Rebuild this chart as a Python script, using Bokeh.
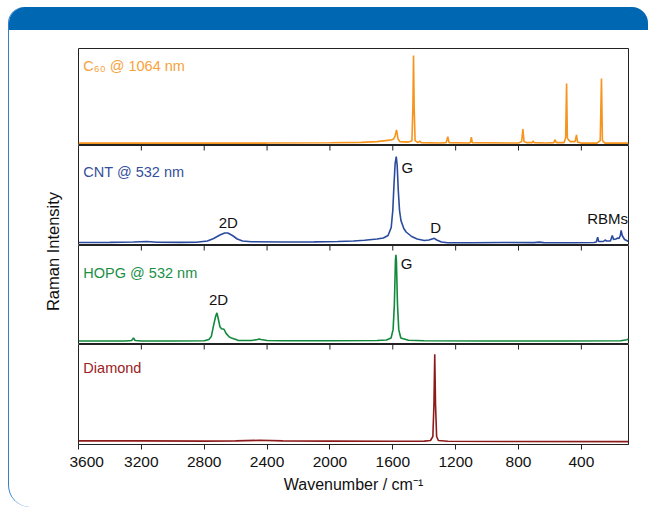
import math
from bokeh.plotting import figure
from bokeh.layouts import column, row
from bokeh.models import Range1d, LinearAxis, FixedTicker, Label, Div, ColumnDataSource
from bokeh.embed import file_html
from bokeh.resources import INLINE

FONT = "Liberation Sans"
X_TICKS = [3600, 3200, 2800, 2400, 2000, 1600, 1200, 800, 400]
X_START, X_END = 3600, 100

# ---- spectra (wavenumber / cm-1, intensity in % of panel height) ----
c60_wn = [3600, 3000, 2400, 2000, 1800, 1700, 1620, 1595, 1585, 1576, 1567, 1555, 1500, 1478, 1472,
          1468, 1464, 1458, 1440, 1428, 1420, 1300, 1260, 1250, 1242, 1115, 1106, 1100, 1094, 800,
          780, 772, 765, 750, 712, 708, 700, 620, 575, 567, 560, 510, 500, 494, 489, 483, 470, 440,
          431, 424, 400, 300, 280, 272, 266, 250, 100]
c60_int = [2.5, 2.5, 2.5, 2.8, 3.2, 4.0, 5.5, 6.5, 10, 16, 7, 4, 3.5, 5, 40,
           92.7, 40, 5, 3, 4.5, 3, 2.5, 3, 9, 3, 2.5, 3, 8.5, 3, 2.5,
           4, 17, 4, 3, 3, 4.5, 3, 2.5, 3, 6, 3, 3, 8, 64, 8, 6, 4, 4,
           11, 3.5, 2.5, 2.5, 5, 69, 5, 2.5, 2.5]

cnt_wn = [3600, 3400, 3250, 3165, 3100, 2950, 2850, 2780, 2740, 2700, 2670, 2650, 2620, 2590, 2556,
          2500, 2300, 2100, 1950, 1850, 1780, 1700, 1660, 1630, 1610, 1600, 1592, 1585, 1578, 1572,
          1565, 1557, 1548, 1530, 1515, 1480, 1445, 1400, 1370, 1350, 1336, 1320, 1290, 1250, 1100,
          900, 700, 669, 640, 450, 320, 305, 296, 290, 260, 249, 240, 215, 203, 195, 180, 168, 160,
          152, 147, 140, 125, 100]
cnt_int = [3, 3.1, 3.5, 4.0, 3.3, 3.1, 3.2, 4.5, 7, 10.5, 12.5, 12.5, 10, 6.5, 4.5,
           3.8, 3.5, 3.6, 4, 4.5, 5.2, 6.5, 7.5, 10, 18, 35, 62, 82, 89, 80,
           55, 35, 25, 17, 13.5, 9, 6.5, 5, 5.5, 6.5, 7.2, 5.5, 3.5, 2.8, 2.8,
           3, 2.9, 3.4, 2.9, 2.8, 3, 3.5, 8.4, 4, 4, 5.5, 4.5, 4.5, 10, 6, 6.5, 7.5, 7,
           10, 15.2, 10, 6, 4]

hopg_wn = [3600, 3300, 3262, 3250, 3240, 3200, 3000, 2800, 2770, 2755, 2740, 2728, 2719, 2712, 2700,
           2690, 2674, 2660, 2640, 2626, 2585, 2500, 2460, 2450, 2440, 2400, 2300, 2000, 1700, 1640,
           1611, 1598, 1590, 1583, 1580, 1577, 1570, 1562, 1549, 1500, 1400, 1000, 500, 150, 110, 100]
hopg_int = [3.5, 3.5, 4, 6.6, 4, 3.5, 3.5, 3.8, 5, 8, 19.6, 28, 32, 27, 18,
            16, 15.4, 11, 7.5, 6.6, 4.2, 4, 5, 5.6, 5, 4, 3.8, 3.8, 4, 4.5,
            6.6, 15, 40, 85, 90.5, 85, 40, 15, 6.6, 4.3, 3.8, 3.5, 3.5, 3.8, 4.8, 5.5]

dia_wn = [3600, 3200, 2800, 2600, 2450, 2300, 2000, 1600, 1400, 1360, 1345, 1338, 1333, 1328, 1321,
          1310, 1250, 800, 100]
dia_int = [3.6, 3.6, 3.4, 3.6, 4.2, 3.6, 3.4, 3.2, 3.4, 4, 8, 40, 90.3, 40, 8,
           4, 3.3, 3, 2.9]

# ---- panel texts ----
panel_names = ["C₆₀ @ 1064 nm", "CNT @ 532 nm", "HOPG @ 532 nm", "Diamond"]
panel_colors = ["#f7941d", "#2b4b9e", "#12893c", "#8c1a1a"]
panel_label_colors = ["#f6a23c", "#34509a", "#1a9046", "#9a2222"]
panel_label_y = [82, 73.8, 72.3, 76.9]

cnt_notes = ["2D", "G", "D", "RBMs"]
cnt_note_wn = [2647, 1508, 1327, 233]
cnt_note_int = [23.3, 78.3, 18.1, 27.2]
hopg_notes = ["2D", "G"]
hopg_note_wn = [2709, 1512]
hopg_note_int = [45.8, 81.7]

spectra = [(c60_wn, c60_int), (cnt_wn, cnt_int), (hopg_wn, hopg_int), (dia_wn, dia_int)]
notes = [([], [], []), (cnt_notes, cnt_note_wn, cnt_note_int),
         (hopg_notes, hopg_note_wn, hopg_note_int), ([], [], [])]

# ---- layout (pixels) ----
PAGE_W, PAGE_H = 648, 507
OFF_L, OFF_T = 8, 7          # white gap before the framed box
BAND_H = 23
FRAME_W = 550
FRAME_H = [97, 100, 99, 100]
TOP_GAP = 18
LAB_W = 60
BL = 9
INNER_W = PAGE_W - OFF_L - 1
BR = INNER_W - LAB_W - BL - FRAME_W
STACK_H = PAGE_H - OFF_T - BAND_H
BOTTOM = STACK_H - TOP_GAP - sum(FRAME_H)

x_range = Range1d(X_START, X_END)

panels = []
for i in range(4):
    top = TOP_GAP if i == 0 else 0
    bottom = BOTTOM if i == 3 else 0
    p = figure(frame_width=FRAME_W, frame_height=FRAME_H[i],
               x_range=x_range, y_range=Range1d(0, 100),
               x_axis_location=None, y_axis_location=None,
               output_backend="svg", toolbar_location=None,
               min_border_left=BL, min_border_right=BR,
               min_border_top=top, min_border_bottom=bottom)
    p.grid.visible = False
    p.outline_line_color = "#222222"
    p.outline_line_width = 1
    p.background_fill_color = "white"
    p.border_fill_color = None

    if i > 0:
        # inward ticks hanging from the panel's top edge (shared x ticks)
        p.ray(x=X_TICKS, y=[100] * len(X_TICKS), length=5, length_units="screen",
              angle=-math.pi / 2, line_color="#222222", line_width=1)
    if i == 3:
        ax = LinearAxis(ticker=FixedTicker(ticks=X_TICKS),
                        major_tick_in=0, major_tick_out=5,
                        minor_tick_line_color=None,
                        axis_line_color="#222222",
                        major_tick_line_color="#222222",
                        major_label_text_font=FONT,
                        major_label_text_font_size="15.5px",
                        major_label_text_color="#111111",
                        major_label_standoff=7,
                        axis_label="Wavenumber / cm⁻¹",
                        axis_label_text_font=FONT,
                        axis_label_text_font_size="16px",
                        axis_label_text_font_style="normal",
                        axis_label_text_color="#111111",
                        axis_label_standoff=6)
        p.add_layout(ax, "below")

    wn, inten = spectra[i]
    src = ColumnDataSource(data=dict(x=wn, y=inten))
    p.line("x", "y", source=src, line_color=panel_colors[i], line_width=1.6)

    p.add_layout(Label(x=3569, y=panel_label_y[i], text=panel_names[i],
                       text_font=FONT, text_font_size="14.5px",
                       text_color=panel_label_colors[i],
                       text_align="left", text_baseline="middle"))
    for t, nx, ny in zip(*notes[i]):
        p.add_layout(Label(x=nx, y=ny, text=t, text_font=FONT, text_font_size="15px",
                           text_color="#111111", text_align="center",
                           text_baseline="middle"))
    panels.append(p)

lab = figure(width=LAB_W, height=STACK_H, x_range=Range1d(0, LAB_W), y_range=Range1d(0, STACK_H),
             x_axis_location=None, y_axis_location=None,
             output_backend="svg", toolbar_location=None,
             min_border=0)
lab.grid.visible = False
lab.outline_line_color = None
lab.background_fill_color = None
lab.border_fill_color = None
lab.add_layout(Label(x=43, y=STACK_H - 221, text="Raman Intensity", angle=math.pi / 2,
                     text_font=FONT, text_font_size="16.5px", text_color="#111111",
                     text_align="center", text_baseline="middle"))

header = Div(text="", width=INNER_W, height=BAND_H, margin=0,
             styles={"background-color": "#0068b3",
                     "border-radius": "16px 16px 0 0"})

body = row(lab, column(*panels, spacing=0), spacing=0)
inner = column(header, body, spacing=0, margin=(OFF_T, 0, 0, OFF_L),
               styles={"border-left": "1px solid #2f80cf",
                       "border-top-left-radius": "16px",
                       "border-bottom-left-radius": "22px"})
root = column(inner, spacing=0)

open("out.html", "w").write(file_html(root, INLINE))
